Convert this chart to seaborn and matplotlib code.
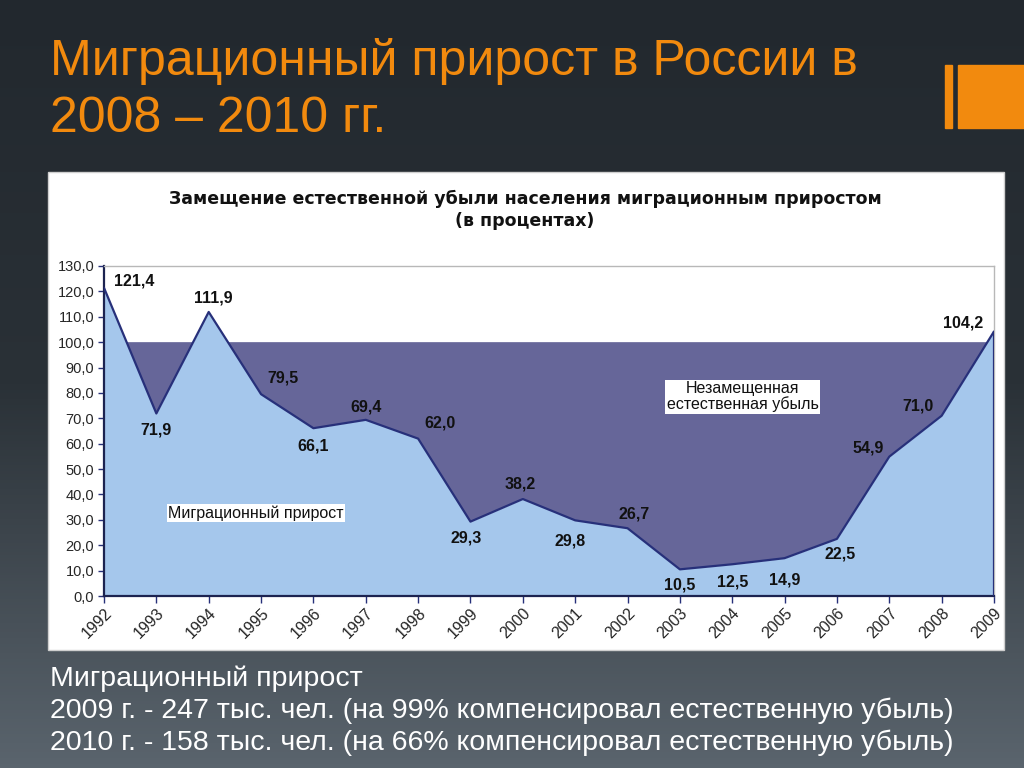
import numpy as np
import matplotlib
matplotlib.use("Agg")
import matplotlib.pyplot as plt
from matplotlib.patches import Rectangle
from matplotlib.ticker import FuncFormatter
import seaborn as sns

years = [1992, 1993, 1994, 1995, 1996, 1997, 1998, 1999, 2000,
         2001, 2002, 2003, 2004, 2005, 2006, 2007, 2008, 2009]
share = [121.4, 71.9, 111.9, 79.5, 66.1, 69.4, 62.0, 29.3, 38.2,
         29.8, 26.7, 10.5, 12.5, 14.9, 22.5, 54.9, 71.0, 104.2]
full_level = 100.0

title = "Миграционный прирост в России в\n2008 – 2010 гг."
chart_title = "Замещение естественной убыли населения миграционным приростом\n(в процентах)"
note_lines = ["Миграционный прирост",
              "2009 г. - 247 тыс. чел. (на 99% компенсировал естественную убыль)",
              "2010 г. - 158 тыс. чел. (на 66% компенсировал естественную убыль)"]
label_gain = "Миграционный прирост"
label_loss = "Незамещенная\nестественная убыль"

# offsets (points) for the value labels
offsets = [(22, 5), (0, -12), (3, 10), (16, 12), (0, -13), (0, 9), (16, 11), (-3, -12),
           (-2, 11), (-4, -15), (5, 10), (0, -11), (0, -13), (0, -16), (2, -11),
           (-15, 6), (-17, 7), (-22, 6)]

light = "#A5C7EC"
dark = "#666699"
navy = "#27307A"
orange = "#F28A0E"

sns.set_theme(style="white")
plt.rcParams["font.family"] = ["Liberation Sans", "DejaVu Sans"]

fig = plt.figure(figsize=(10.24, 7.68), dpi=100)

# slide background gradient
bg = fig.add_axes([0, 0, 1, 1], zorder=-10)
grad = np.linspace(0, 1, 256).reshape(-1, 1)
cmap = matplotlib.colors.LinearSegmentedColormap.from_list("bg", ["#22282e", "#2a3137", "#5a646d"])
bg.imshow(grad, aspect="auto", cmap=cmap, extent=[0, 1, 0, 1], origin="upper")
bg.set_axis_off()

# orange marker at top right
fig.patches.append(Rectangle((945 / 1024, 1 - 128 / 768), 7 / 1024, 63 / 768,
                             transform=fig.transFigure, color=orange))
fig.patches.append(Rectangle((958 / 1024, 1 - 128 / 768), 70 / 1024, 63 / 768,
                             transform=fig.transFigure, color=orange))

# white chart panel
fig.patches.append(Rectangle((48 / 1024, 1 - 650 / 768), 956 / 1024, 478 / 768,
                             transform=fig.transFigure, facecolor="white",
                             edgecolor="#cfcfcf", lw=1, zorder=-5))

fig.text(50 / 1024, 1 - 38 / 768, title, color=orange, fontsize=36,
         va="top", ha="left", linespacing=1.3)
fig.text(50 / 1024, 1 - 665 / 768, "\n".join(note_lines), color="white", fontsize=20.5,
         va="top", ha="left", linespacing=1.28)
fig.text(525 / 1024, 1 - 210 / 768, chart_title, color="#111111", fontsize=12.5,
         fontweight="bold", family=["DejaVu Sans"], ha="center", va="center",
         linespacing=1.25)

ax = fig.add_axes([104 / 1024, 1 - 596 / 768, 890 / 1024, 330 / 768])
ax.set_facecolor("white")

y = np.array(share)
ax.fill_between(years, 0, share, color=light, lw=0, zorder=1)
ax.fill_between(years, share, full_level, where=y < full_level, interpolate=True,
                color=dark, lw=0, zorder=1)
sns.lineplot(x=years, y=share, ax=ax, color=navy, lw=1.6, zorder=3)
ax.vlines(years[-1], 0, share[-1], color=navy, lw=1.6, zorder=3)

for xv, yv, off in zip(years, share, offsets):
    ax.annotate(f"{yv:.1f}".replace(".", ","), (xv, yv), xytext=off,
                textcoords="offset points", ha="center", va="center",
                fontsize=11.5, fontweight="bold", color="#111111", zorder=5)

ax.text(1994.9, 32.7, label_gain, fontsize=11.5, ha="center", va="center", color="#111111",
        bbox=dict(facecolor="white", edgecolor="none", pad=1), zorder=6)
ax.text(2004.2, 78.5, label_loss, fontsize=11.5, ha="center", va="center", color="#111111",
        linespacing=1.05, bbox=dict(facecolor="white", edgecolor="none", pad=1), zorder=6)

ax.set_xlim(years[0], years[-1])
ax.set_ylim(0, 130)
ax.set_xticks(years)
ax.set_xticklabels([str(v) for v in years], rotation=45, ha="right",
                   rotation_mode="anchor", fontsize=11.5)
ax.set_yticks(np.arange(0, 131, 10))
ax.yaxis.set_major_formatter(FuncFormatter(lambda v, p: f"{v:.1f}".replace(".", ",")))
ax.tick_params(axis="y", labelsize=10.5, length=4, width=1, color=navy, direction="out",
               left=True, pad=3)
ax.tick_params(axis="x", length=5, width=1, color=navy, direction="out", bottom=True, pad=2)
for s in ["left", "bottom"]:
    ax.spines[s].set_color("#1c2350")
    ax.spines[s].set_linewidth(1.6)
for s in ["top", "right"]:
    ax.spines[s].set_color("#b8b8b8")
    ax.spines[s].set_linewidth(1)
ax.grid(False)
ax.set_xlabel("")
ax.set_ylabel("")

fig.savefig("out.png", dpi=100)
